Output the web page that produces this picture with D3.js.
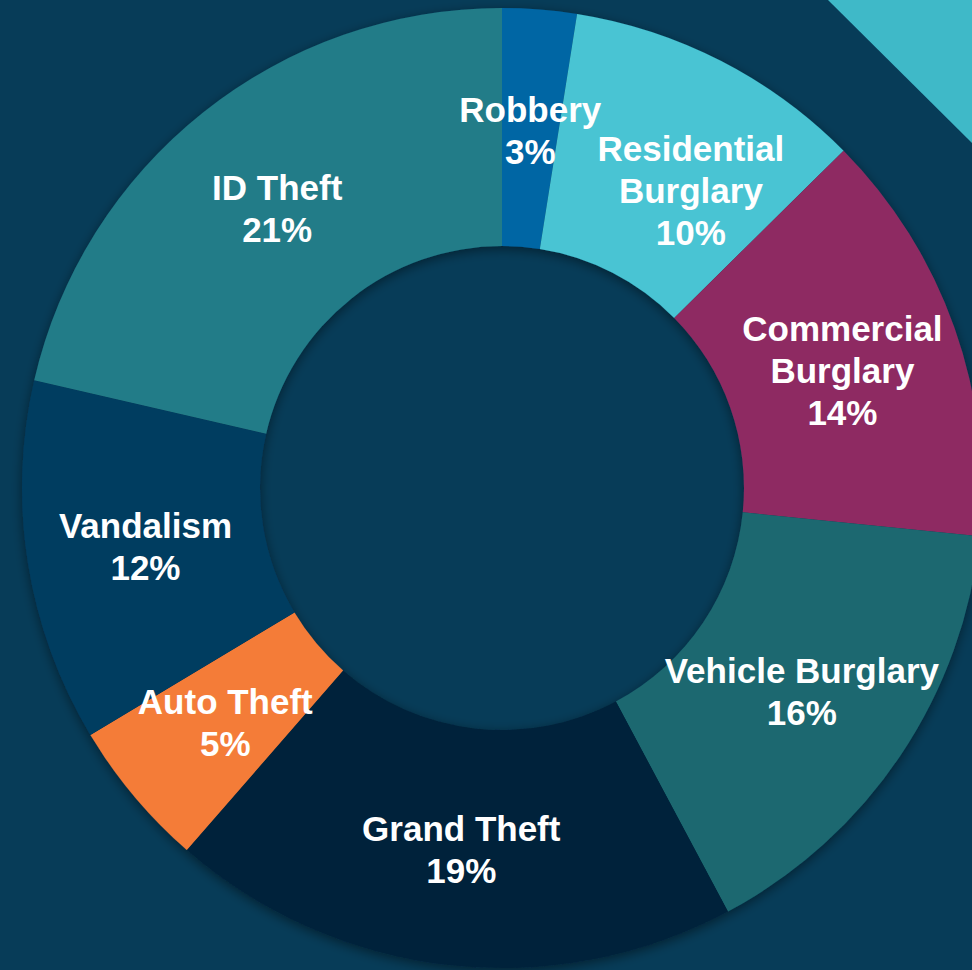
<!DOCTYPE html>
<html>
<head>
<meta charset="utf-8">
<script src="https://cdn.jsdelivr.net/npm/d3@7"></script>
<style>
  html, body { margin: 0; padding: 0; background: #073c58; }
  svg { display: block; }
</style>
</head>
<body>
<div id="my_dataviz"></div>
<script>
// slice names (\n = line break in label) and shares in percent, clockwise from 12 o'clock
var categories = ["Robbery", "Residential\nBurglary", "Commercial\nBurglary", "Vehicle Burglary",
                  "Grand Theft", "Auto Theft", "Vandalism", "ID Theft"];
var shares = [2.5, 10.1, 14.0, 15.6, 19.2, 5.0, 12.2, 21.4];
var sliceColors = ["#0066a4", "#48c4d3", "#8e2c62", "#1c6870", "#00233b", "#f47b38", "#003c60", "#237c88"];

function draw_donut() {

    var width = 972;
    var height = 970;
    var cx = 502, cy = 488;
    var outerR = 480, innerR = 242;

    var data = categories.map(function(c, i) {
        return { name: c, value: shares[i], color: sliceColors[i] };
    });

    var svg = d3.select("#my_dataviz").append("svg")
        .attr("width", width)
        .attr("height", height)
        .style("background-color", "#073c58");

    var defs = svg.append("defs");
    var f = defs.append("filter").attr("id", "shadow")
        .attr("x", "-10%").attr("y", "-10%").attr("width", "120%").attr("height", "120%");
    f.append("feGaussianBlur").attr("in", "SourceAlpha").attr("stdDeviation", 6);
    f.append("feOffset").attr("dx", 0).attr("dy", 3).attr("result", "blur");
    f.append("feComponentTransfer").append("feFuncA").attr("type", "linear").attr("slope", 0.45);
    var merge = f.append("feMerge");
    merge.append("feMergeNode");
    merge.append("feMergeNode").attr("in", "SourceGraphic");

    // decorative corner
    svg.append("polygon")
        .attr("points", "828,0 972,0 972,143")
        .attr("fill", "#3fb9c8");

    var pie = d3.pie().sort(null).value(function(d) { return d.value; });
    var arc = d3.arc().innerRadius(innerR).outerRadius(outerR);
    var labelArc = d3.arc().innerRadius((innerR + outerR) / 2).outerRadius((innerR + outerR) / 2);

    var g = svg.append("g")
        .attr("transform", "translate(" + cx + "," + cy + ")");

    g.append("g")
        .attr("filter", "url(#shadow)")
        .selectAll("path")
        .data(pie(data))
        .enter()
        .append("path")
            .attr("d", arc)
            .attr("fill", function(d) { return d.data.color; });

    // label nudges where the original moved a label off its centroid
    var nudge = { "Residential\nBurglary": [24, 21] };
    var lineH = 42;

    var labels = g.selectAll("text.lbl")
        .data(pie(data))
        .enter()
        .append("text")
            .attr("class", "lbl")
            .attr("text-anchor", "middle")
            .attr("fill", "#ffffff")
            .style("font-family", "'Liberation Sans', Arial, sans-serif")
            .style("font-weight", "bold")
            .style("font-size", "35px")
            .attr("transform", function(d) {
                var c = labelArc.centroid(d);
                var n = nudge[d.data.name] || [0, 0];
                return "translate(" + (c[0] + n[0]) + "," + (c[1] + n[1]) + ")";
            });

    labels.each(function(d) {
        var lines = d.data.name.split("\n").concat([Math.round(d.data.value) + "%"]);
        var t = d3.select(this);
        var top = -(lines.length - 1) * lineH / 2 + 15;
        lines.forEach(function(line, i) {
            t.append("tspan")
                .attr("x", 0)
                .attr("y", top + i * lineH)
                .text(line);
        });
    });
}

draw_donut();
</script>
</body>
</html>
